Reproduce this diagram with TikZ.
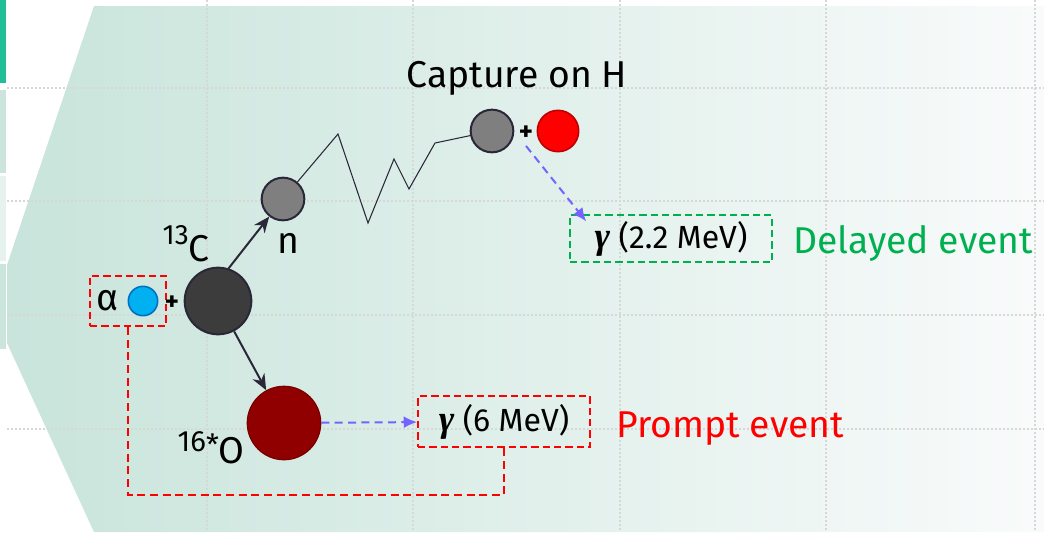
\documentclass[tikz,border=0pt]{standalone}
\usepackage{fontspec}
\setmainfont{Fira Sans}
\newfontfamily\gammafont{Liberation Serif}
\usepackage{tikz}
\usetikzlibrary{arrows.meta}

\definecolor{bgL}{RGB}{200,228,219}
\definecolor{bgM}{RGB}{237,246,243}
\definecolor{bgR}{RGB}{249,251,251}
\definecolor{balkenTeal}{RGB}{32,191,154}
\definecolor{balkenA}{RGB}{203,229,221}
\definecolor{balkenB}{RGB}{230,242,238}
\definecolor{kante}{RGB}{42,40,56}
\definecolor{cGrau}{RGB}{60,60,60}
\definecolor{nGrau}{RGB}{127,127,127}
\definecolor{oRot}{RGB}{144,0,0}
\definecolor{hRot}{RGB}{255,0,0}
\definecolor{hKante}{RGB}{192,0,0}
\definecolor{aBlau}{RGB}{0,176,240}
\definecolor{aKante}{RGB}{0,112,192}
\definecolor{rot}{RGB}{255,0,0}
\definecolor{gruen}{RGB}{0,176,80}
\definecolor{pfeilBlau}{RGB}{115,100,255}
\definecolor{raster}{RGB}{214,216,216}

\newcommand{\gam}{{\gammafont\fontsize{28}{28}\selectfont\bfseries\itshape γ}}

\begin{document}
\begin{tikzpicture}[x=0.75pt, y=-0.75pt,
      teilchen/.style={circle, draw=kante, line width=1.5pt, inner sep=0pt},
      beschr/.style={font=\fontsize{28}{30}\selectfont, inner sep=0pt},
      ereignis/.style={font=\fontsize{28}{30}\selectfont, inner sep=0pt},
      plus/.style={font=\fontsize{20}{20}\selectfont\bfseries, inner sep=1pt},
      gammabox/.style={line width=1.4pt, dash pattern=on 5.5pt off 3pt, font=\fontsize{24}{26}\selectfont, inner sep=0pt},
      schwarzPfeil/.style={draw=kante, line width=1.5pt, -{Stealth[length=12pt,width=10pt]}},
      blauPfeil/.style={draw=pfeilBlau, line width=1.5pt, dash pattern=on 6pt off 4pt, -{Latex[length=10pt,width=9pt]}},
      rueck/.style={draw=rot, line width=0.9pt, dash pattern=on 6pt off 3.5pt},
      rasterlinie/.style={draw=raster, line width=1pt, dash pattern=on 1.5pt off 1.5pt}]
  \useasboundingbox (0,0) rectangle (1044,532);
  % Hintergrund
  \fill[white] (0,0) rectangle (1044,532);
  \shade[left color=bgL, middle color=bgM, right color=bgR]
    (94,6) -- (1044,6) -- (1044,532) -- (94,532) -- (7,343) -- (7,265) -- cycle;
  \fill[balkenTeal] (0,0) rectangle (6,83);
  \fill[balkenA] (0,90) rectangle (6,173);
  \fill[balkenB] (0,176) rectangle (6,261);
  \fill[balkenA] (0,264) rectangle (6,349);
  % Raster
  \foreach \y in {88,201,315,429} \draw[rasterlinie] (7,\y) -- (1044,\y);
  \foreach \x in {207,413,620,826,1035} \draw[rasterlinie] (\x,0) -- (\x,532);

  % Alpha und Kern
  \node[draw=rot, line width=1.5pt, dash pattern=on 5.5pt off 3pt,
        minimum width=57pt, minimum height=37.5pt] (abox) at (128,301) {};
  \node[beschr, anchor=base] (alpha) at (108,310) {α};
  \node[teilchen, draw=aKante, fill=aBlau, line width=1.2pt, minimum size=22pt] (aball) at (143,301) {};
  \node[plus] (plusA) at (172,303) {+};
  \node[teilchen, fill=cGrau, minimum size=50pt] (ckern) at (218,301) {};
  \node[beschr, anchor=base east] (clbl) at (210,261) {\raisebox{12.5pt}{\fontsize{21}{21}\selectfont 13}C};

  % Neutron
  \node[teilchen, fill=nGrau, minimum size=32pt] (nkern) at (283,199) {};
  \node[beschr, anchor=base] (nlbl) at (288,253) {n};

  % Sauerstoff
  \node[teilchen, draw=oRot!85!black, line width=1pt, fill=oRot, minimum size=55pt] (okern) at (284,423) {};
  \node[beschr, anchor=base east] (olbl) at (245,463) {\raisebox{9pt}{\fontsize{22}{22}\selectfont 16\raisebox{-3pt}{*}}O};

  % Einfang
  \node[ereignis, anchor=base] (capt) at (517,87) {Capture on H};
  \node[teilchen, fill=nGrau, minimum size=32pt] (capn) at (492,131) {};
  \node[plus] (plusH) at (526,133) {+};
  \node[teilchen, draw=hKante, line width=1.2pt, fill=hRot, minimum size=31pt] (hkern) at (558,131) {};

  % Gamma-Kaesten
  \node[gammabox, draw=rot, minimum width=129pt, minimum height=38pt] (pbox) at (504,421.5) {\gam{} (6 MeV)};
  \node[gammabox, draw=gruen, line width=1.2pt, minimum width=151.5pt, minimum height=35pt] (dbox) at (671,238.5) {\gam{} (2.2 MeV)};
  \node[ereignis, text=rot, anchor=base west] (prompt) at (616,437) {Prompt event};
  \node[ereignis, text=gruen, anchor=base west] (delayed) at (793,253) {Delayed event};

  % Pfeile
  \draw[schwarzPfeil] (ckern.72) -- (nkern);
  \draw[schwarzPfeil] (ckern.-62) -- (okern);
  \draw[kante, line width=0.8pt] (nkern) -- (338,134) -- (368,223) -- (394,159) -- (409,189) -- (435,143) -- (capn);
  \draw[blauPfeil] (okern) -- (pbox);
  \draw[blauPfeil] ([yshift=-3pt]plusH.south) -- ([shift={(17,7)}]dbox.north west);
  \coordinate (rueckEcke) at (128,495);
  \draw[rueck] (abox.south) -- (rueckEcke) -| (pbox.south);
\end{tikzpicture}
\end{document}
